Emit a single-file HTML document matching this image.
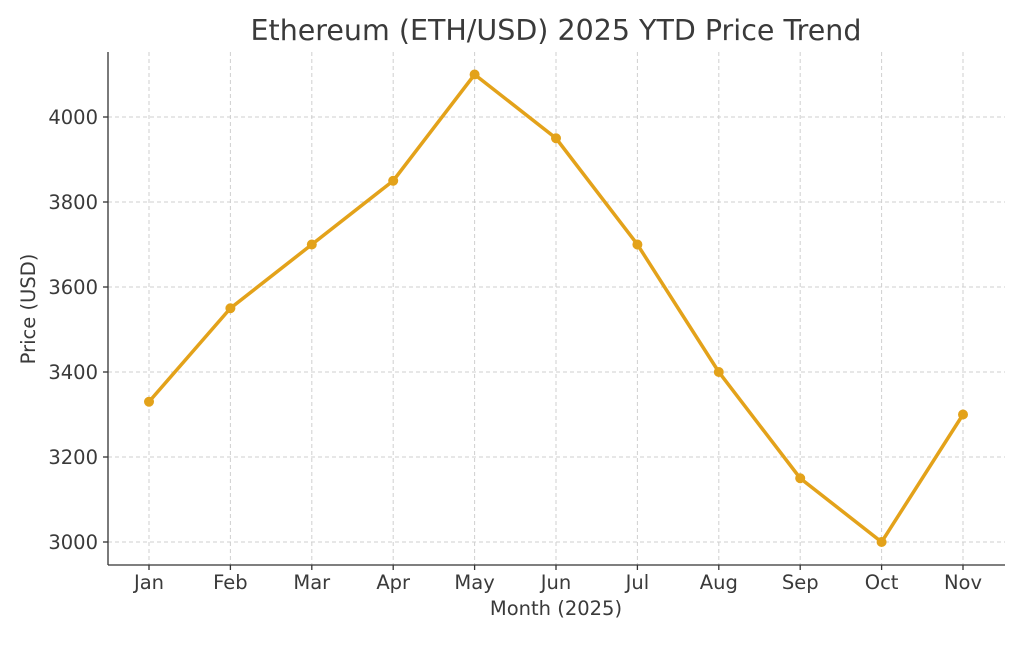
<!DOCTYPE html>
<html><head><meta charset="utf-8"><style>
html,body{margin:0;padding:0;background:#fff;}
svg text{font-family:"DejaVu Sans","Liberation Sans",sans-serif;fill:#3a3a3a;}
</style></head><body>
<svg width="1024" height="640" viewBox="0 0 1024 640" xmlns="http://www.w3.org/2000/svg">
<rect width="1024" height="640" fill="#fff"/>
<text x="556" y="40" font-size="28.5" text-anchor="middle">Ethereum (ETH/USD) 2025 YTD Price Trend</text>
<g stroke="#cfcfcf" stroke-width="1" stroke-dasharray="4,3">
<line x1="108" x2="1005" y1="542" y2="542"/>
<line x1="108" x2="1005" y1="457" y2="457"/>
<line x1="108" x2="1005" y1="372" y2="372"/>
<line x1="108" x2="1005" y1="287" y2="287"/>
<line x1="108" x2="1005" y1="202" y2="202"/>
<line x1="108" x2="1005" y1="117" y2="117"/>
<line x1="149" x2="149" y1="52" y2="565"/>
<line x1="230.4" x2="230.4" y1="52" y2="565"/>
<line x1="311.8" x2="311.8" y1="52" y2="565"/>
<line x1="393.2" x2="393.2" y1="52" y2="565"/>
<line x1="474.6" x2="474.6" y1="52" y2="565"/>
<line x1="556" x2="556" y1="52" y2="565"/>
<line x1="637.4" x2="637.4" y1="52" y2="565"/>
<line x1="718.8" x2="718.8" y1="52" y2="565"/>
<line x1="800.2" x2="800.2" y1="52" y2="565"/>
<line x1="881.6" x2="881.6" y1="52" y2="565"/>
<line x1="963" x2="963" y1="52" y2="565"/>
</g>
<g stroke="#333" stroke-width="1.3">
<line x1="108" x2="108" y1="52" y2="565"/>
<line x1="108" x2="1005" y1="565" y2="565"/>
<line x1="103" x2="108" y1="542" y2="542"/><line x1="103" x2="108" y1="457" y2="457"/><line x1="103" x2="108" y1="372" y2="372"/><line x1="103" x2="108" y1="287" y2="287"/><line x1="103" x2="108" y1="202" y2="202"/><line x1="103" x2="108" y1="117" y2="117"/>
<line x1="149" x2="149" y1="565" y2="570"/><line x1="230.4" x2="230.4" y1="565" y2="570"/><line x1="311.8" x2="311.8" y1="565" y2="570"/><line x1="393.2" x2="393.2" y1="565" y2="570"/><line x1="474.6" x2="474.6" y1="565" y2="570"/><line x1="556" x2="556" y1="565" y2="570"/><line x1="637.4" x2="637.4" y1="565" y2="570"/><line x1="718.8" x2="718.8" y1="565" y2="570"/><line x1="800.2" x2="800.2" y1="565" y2="570"/><line x1="881.6" x2="881.6" y1="565" y2="570"/><line x1="963" x2="963" y1="565" y2="570"/>
</g>
<g font-size="19.5" text-anchor="end">
<text x="98" y="549">3000</text><text x="98" y="464">3200</text><text x="98" y="379">3400</text><text x="98" y="294">3600</text><text x="98" y="209">3800</text><text x="98" y="124">4000</text>
</g>
<g font-size="19.5" text-anchor="middle">
<text x="149" y="589">Jan</text><text x="230.4" y="589">Feb</text><text x="311.8" y="589">Mar</text><text x="393.2" y="589">Apr</text><text x="474.6" y="589">May</text><text x="556" y="589">Jun</text><text x="637.4" y="589">Jul</text><text x="718.8" y="589">Aug</text><text x="800.2" y="589">Sep</text><text x="881.6" y="589">Oct</text><text x="963" y="589">Nov</text>
</g>
<text x="556" y="615" font-size="19.5" text-anchor="middle">Month (2025)</text>
<text transform="translate(35,309) rotate(-90)" font-size="19.5" text-anchor="middle">Price (USD)</text>
<polyline fill="none" stroke="#E3A21A" stroke-width="3.5" stroke-linejoin="round" points="149,401.75 230.4,308.25 311.8,244.5 393.2,180.75 474.6,74.5 556,138.25 637.4,244.5 718.8,372 800.2,478.25 881.6,542 963,414.5"/>
<g fill="#E3A21A">
<circle cx="149" cy="401.75" r="5"/><circle cx="230.4" cy="308.25" r="5"/><circle cx="311.8" cy="244.5" r="5"/><circle cx="393.2" cy="180.75" r="5"/><circle cx="474.6" cy="74.5" r="5"/><circle cx="556" cy="138.25" r="5"/><circle cx="637.4" cy="244.5" r="5"/><circle cx="718.8" cy="372" r="5"/><circle cx="800.2" cy="478.25" r="5"/><circle cx="881.6" cy="542" r="5"/><circle cx="963" cy="414.5" r="5"/>
</g>
</svg>
</body></html>
